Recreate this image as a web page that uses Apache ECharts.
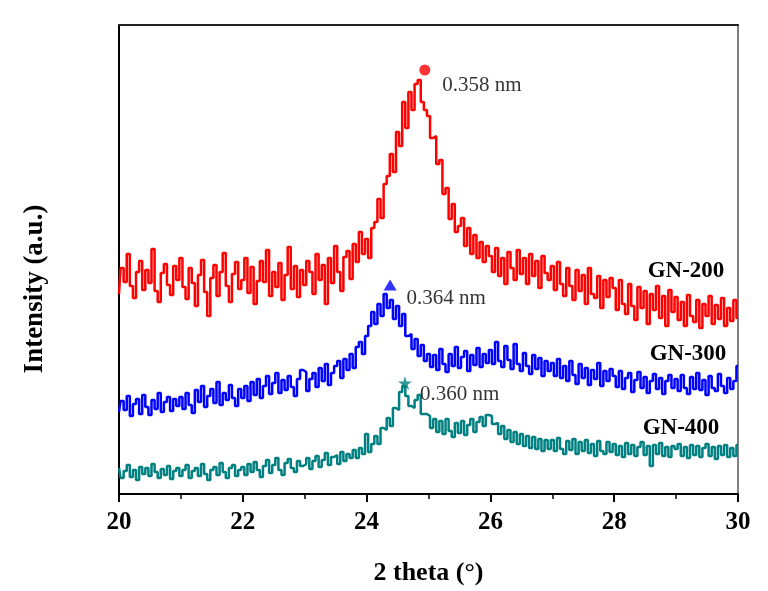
<!DOCTYPE html>
<html>
<head>
<meta charset="utf-8">
<script src="https://cdn.jsdelivr.net/npm/echarts@6/dist/echarts.min.js"></script>
<style>html,body{margin:0;padding:0;background:#fff;}#c{width:768px;height:591px;}</style>
</head>
<body>
<div id="c"></div>
<script>
// 2-theta sampling grid: 20.00 .. 30.00, step 0.05 (201 points)
const twoTheta = Array.from({length: 201}, (_, i) => +(20 + i * 0.05).toFixed(2));

// GN-200 (red)
const gn200 = [
 200,226,212,240,208,196,222,233,204,224,211,245,203,192,221,230,209,199,228,214,
 236,207,195,226,211,188,219,234,202,178,216,229,198,222,241,208,192,220,232,205,
 214,236,201,227,190,213,233,212,244,198,222,207,231,194,219,247,205,228,197,224,
 209,233,222,200,240,214,229,190,236,211,248,222,203,237,243,215,250,232,262,240,
 255,236,266,272,295,276,310,318,340,322,362,348,392,366,402,384,410,414,392,384,
 378,356,358,330,334,300,306,275,290,262,268,276,248,266,240,259,236,252,232,248,
 238,222,246,218,236,210,242,226,214,244,220,236,210,240,218,233,206,238,221,214,
 228,204,232,210,198,226,208,194,224,203,219,190,226,200,196,218,186,214,197,216,
 206,184,214,190,180,210,188,174,207,186,203,170,200,184,208,176,198,168,204,182,
 197,174,192,168,199,178,172,194,166,190,178,198,170,189,175,196,168,186,173,194,
 176
];
// GN-300 (blue)
const gn300 = [
 82,93,84,98,78,90,95,80,99,87,79,94,85,101,82,92,97,83,95,88,
 97,85,101,89,81,104,92,108,87,98,105,91,112,89,101,94,109,96,88,105,
 96,108,93,112,99,115,96,108,118,100,111,121,101,114,104,118,107,98,115,124,
 122,103,115,121,107,126,113,130,109,121,128,133,116,135,124,140,126,147,152,140,
 158,168,182,170,190,178,200,186,194,175,188,168,180,158,160,145,155,138,149,133,
 140,127,139,124,145,130,122,140,128,147,126,137,143,123,139,129,146,127,140,131,
 144,130,152,133,127,148,134,125,150,130,123,141,128,120,139,125,136,118,133,123,
 131,118,135,116,128,113,133,119,110,130,116,126,109,124,115,131,108,123,113,125,
 118,107,123,105,116,121,102,114,122,106,117,101,113,120,105,116,100,113,119,106,
 115,103,119,106,100,117,105,121,104,114,99,118,106,103,120,108,101,116,105,113,
 128
];
// GN-400 (teal)
const gn400 = [
 26,16,23,29,17,24,14,27,20,26,18,30,22,16,25,19,28,15,23,26,
 18,24,29,16,23,26,18,30,20,14,24,27,19,31,22,16,26,29,18,24,
 27,19,30,22,32,24,17,28,34,21,29,36,24,19,31,35,26,22,33,28,
 30,36,25,33,38,27,34,41,29,37,39,30,42,33,40,36,44,36,46,40,
 60,42,50,58,50,66,64,76,68,86,84,102,108,98,88,86,94,99,80,80,
 78,66,75,62,73,60,75,63,57,71,61,73,59,69,75,62,72,77,68,79,
 78,70,71,60,68,55,64,52,62,50,60,48,58,46,57,45,55,43,54,45,
 54,43,56,45,40,53,44,55,40,52,43,54,41,50,38,53,43,40,52,42,
 50,39,48,37,51,40,49,38,47,52,39,48,28,49,40,51,38,47,37,48,
 45,50,38,47,36,49,39,48,37,46,50,38,47,35,48,39,49,37,46,38,
 49
];

// Peak markers and d-spacing annotations
const peakX = [24.94, 24.38, 24.62];
const peakY = [424, 209, 111];
const peakText = ['0.358 nm', '0.364 nm', '0.360 nm'];
const sampleNames = ['GN-200', 'GN-300', 'GN-400'];
const colors = ['#ff0000', '#0000ff', '#008080'];
const xTicks = [20, 22, 24, 26, 28, 30];

const FONT = '"Liberation Serif","Times New Roman",serif';
const pair = arr => arr.map((v, i) => [twoTheta[i], v]);
const starPath = 'path://M50,0 L61,35 L98,35 L68,57 L79,91 L50,70 L21,91 L32,57 L2,35 L39,35 Z';
const symbols = ['circle', 'triangle', starPath];
const symbolSizes = [11, [13, 11], 14];
const labelOffsets = [[4, 15], [2, 13], [0, 11]];

const chart = echarts.init(document.getElementById('c'));
const lineSeries = [gn200, gn300, gn400].map((d, k) => ({
  type: 'line', step: 'middle', data: pair(d), showSymbol: false, symbol: 'none',
  lineStyle: {color: colors[k], width: 2.5}, silent: true, animation: false, z: 2
}));
const peakSeries = peakX.map((x, k) => ({
  type: 'scatter', data: [[x, peakY[k]]], symbol: symbols[k], symbolSize: symbolSizes[k],
  itemStyle: {color: colors[k]}, animation: false, z: 3,
  label: {show: true, formatter: peakText[k], position: 'right', distance: 8, offset: labelOffsets[k],
    fontFamily: FONT, fontSize: 21, color: '#000'}
}));

const textStyle = (t, size) => ({text: t, fontFamily: FONT, fontSize: size, fontWeight: 'bold', fill: '#000', align: 'center', verticalAlign: 'middle'});

chart.setOption({
  backgroundColor: '#fff',
  animation: false,
  grid: {left: 119, right: 30, top: 25, bottom: 97},
  xAxis: [{
    type: 'value', min: 20, max: 30, interval: 2,
    name: '2 theta (\u00B0)', nameLocation: 'middle', nameGap: 66,
    nameTextStyle: {fontFamily: FONT, fontSize: 26, fontWeight: 'bold', color: '#000'},
    axisLine: {show: true, lineStyle: {color: '#000', width: 2}},
    axisTick: {show: true, inside: false, length: 8, lineStyle: {color: '#000', width: 2}},
    minorTick: {show: true, splitNumber: 2, length: 5, lineStyle: {color: '#000', width: 1.5}},
    axisLabel: {fontFamily: FONT, fontSize: 25, fontWeight: 'bold', color: '#000', margin: 16,
      formatter: v => xTicks.includes(v) ? String(v) : ''},
    splitLine: {show: false}
  }, {
    type: 'value', min: 20, max: 30, position: 'top',
    axisLine: {show: true, onZero: false, lineStyle: {color: '#222', width: 2}},
    axisTick: {show: false}, axisLabel: {show: false}, splitLine: {show: false}
  }],
  yAxis: [{
    type: 'value', min: 0, max: 469,
    axisLine: {show: true, lineStyle: {color: '#000', width: 2}},
    axisTick: {show: false}, axisLabel: {show: false}, splitLine: {show: false}
  }, {
    type: 'value', min: 0, max: 469, position: 'right',
    axisLine: {show: true, onZero: false, lineStyle: {color: '#808080', width: 2}},
    axisTick: {show: false}, axisLabel: {show: false}, splitLine: {show: false}
  }],
  graphic: [
    {type: 'text', x: 35, y: 289, rotation: Math.PI / 2, style: textStyle('Intensity (a.u.)', 27)},
    {type: 'text', x: 686, y: 271, style: textStyle(sampleNames[0], 23)},
    {type: 'text', x: 688, y: 354, style: textStyle(sampleNames[1], 23)},
    {type: 'text', x: 681, y: 428, style: textStyle(sampleNames[2], 23)}
  ],
  series: lineSeries.concat(peakSeries)
});
</script>
</body>
</html>
